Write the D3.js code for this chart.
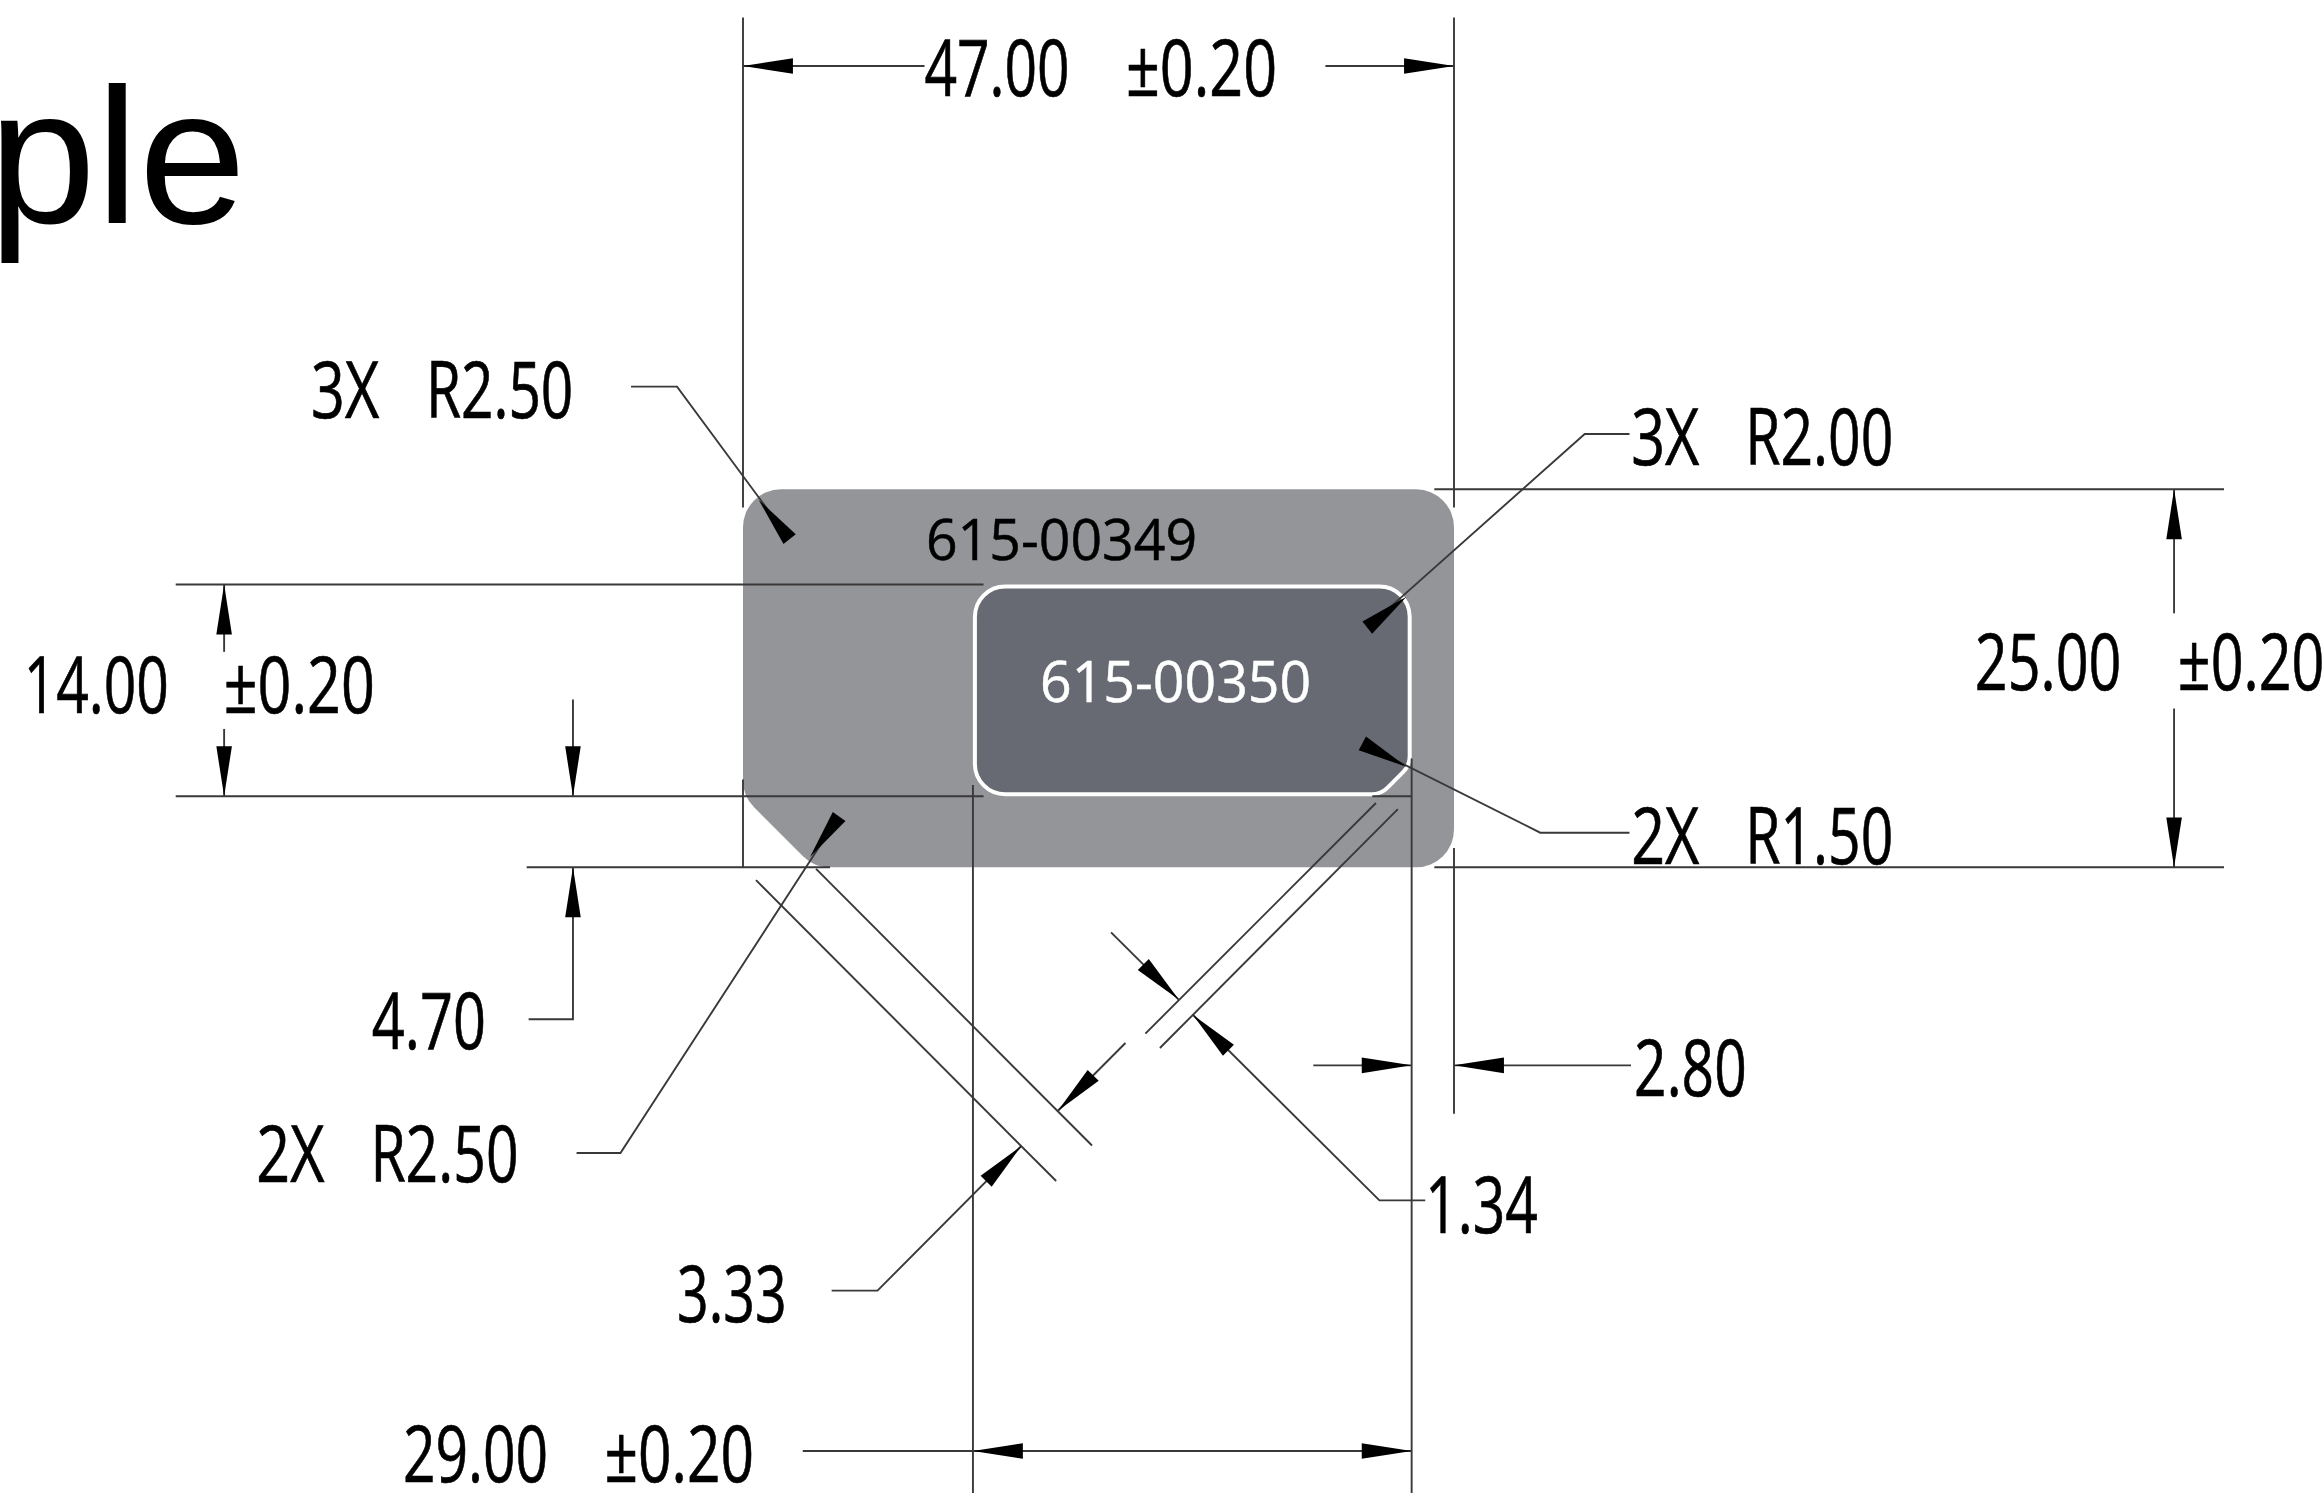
<!DOCTYPE html>
<html><head><meta charset="utf-8">
<script src="https://cdn.jsdelivr.net/npm/d3@7"></script>
<style>html,body{margin:0;padding:0;background:#fff;overflow:hidden}svg{display:block}</style>
</head><body><svg id="c" width="2323" height="1493"></svg>
<script>
// ---- values (millimetres, origin = card's lower-left corner) ----
const cardWidth = 47, cardHeight = 25, cardChamfer = 4.7, cardRadius = 2.5;
const innerX = [15.2, 44.2], innerY = [4.7, 18.7], innerRadius = 2, innerChamfer = 1.9, innerChamferRadius = 1.5;
const innerInset = 0.13;

const titleText = "Example";
const partNumbers = ["615-00349", "615-00350"];
const dimLabels = ["47.00","±0.20","3X","R2.50","3X","R2.00","14.00","±0.20","25.00","±0.20","2X","R1.50","4.70","2.80","2X","R2.50","1.34","3.33","29.00","±0.20"];

// thin extension / dimension / leader lines: polyline vertices in mm
const polylines = [
  [[0,56.2],[0,23.8]], [[47,56.2],[47,23.8]], [[47,1.28],[47,-16.3]],
  [[0,53],[12,53]], [[38.5,53],[47,53]],
  [[45.7,25],[97.9,25]], [[45.7,0],[97.9,0]],
  [[-14.3,0],[5.75,0]], [[0,5.8],[0,0]],
  [[-37.5,18.7],[15.9,18.7]], [[-37.5,4.7],[15.9,4.7]], [[41.6,4.7],[44.2,4.7]],
  [[15.2,5.44],[15.2,-42]], [[44.2,7.2],[44.2,-42]],
  [[-11.24,11.1],[-11.24,4.7]], [[-14.17,-10.05],[-11.24,-10.05],[-11.24,0]],
  [[-34.3,14.25],[-34.3,18.7]], [[-34.3,9.15],[-34.3,4.7]],
  [[94.6,16.8],[94.6,25]], [[94.6,10.5],[94.6,0]],
  [[37.7,-13.1],[44.2,-13.1]], [[58.7,-13.1],[47,-13.1]],
  [[3.95,-38.6],[44.2,-38.6]],
  [[4.83,-0.1],[23.07,-18.4]], [[0.86,-0.85],[20.7,-20.75]],
  [[41.84,4.25],[26.6,-11]], [[43.29,3.85],[27.56,-11.95]],
  [[24.33,-4.3],[28.8,-8.75]], [[45.1,-22.03],[42.07,-22.03],[29.75,-9.77]],
  [[25.28,-11.62],[20.82,-16.1]], [[5.86,-28],[8.89,-28],[18.4,-18.43]],
  [[-7.4,31.79],[-4.36,31.79],[2.97,21.85]],
  [[-11,-18.9],[-8.1,-18.9],[6.19,3.13]],
  [[58.6,28.66],[55.64,28.66],[41.26,15.85]],
  [[58.6,2.29],[52.7,2.29],[41.13,8.09]]
];
// arrowheads: [tip, point the arrow shaft comes from], in mm
const arrows = [
  [[0,53],[12,53]], [[47,53],[38.5,53]],
  [[-11.24,4.7],[-11.24,11.1]], [[-11.24,0],[-11.24,-10]],
  [[-34.3,18.7],[-34.3,14]], [[-34.3,4.7],[-34.3,9]],
  [[94.6,25],[94.6,16]], [[94.6,0],[94.6,10]],
  [[44.2,-13.1],[37,-13.1]], [[47,-13.1],[58,-13.1]],
  [[15.2,-38.6],[30,-38.6]], [[44.2,-38.6],[30,-38.6]],
  [[28.8,-8.75],[24.33,-4.3]], [[29.75,-9.77],[42.07,-22.03]],
  [[20.82,-16.1],[25.28,-11.62]], [[18.4,-18.43],[8.89,-28]],
  [[1.04,24.3],[2.97,21.85]], [[4.43,0.68],[6.19,3.13]],
  [[43.86,17.9],[41.26,15.85]], [[43.86,6.65],[41.13,8.09]]
];

// ---- scales: mm on the drawing to pixels ----
const X = d3.scaleLinear().domain([0, cardWidth]).range([743, 1454]);
const Y = d3.scaleLinear().domain([0, cardHeight]).range([867.3, 489.3]);
const svg = d3.select("#c");
const LINE = "#3a3839";

// ---- rounded outlines ----
function outline(corners){ // corners: [x,y,r] in mm
  const p = d3.path(), n = corners.length;
  const a = corners[n-1], b = corners[0];
  p.moveTo(X((a[0]+b[0])/2), Y((a[1]+b[1])/2));
  corners.forEach((c,i)=>{
    const nx = corners[(i+1)%n];
    p.arcTo(X(c[0]),Y(c[1]),X(nx[0]),Y(nx[1]),c[2]*Math.abs(X(1)-X(0)));
  });
  p.closePath();
  return p.toString();
}
svg.append("path").attr("fill","#939598").attr("d",outline([
  [0,cardHeight,cardRadius],[cardWidth,cardHeight,cardRadius],[cardWidth,0,cardRadius],
  [cardChamfer,0,cardRadius],[0,cardChamfer,cardRadius]]));
const ix0 = innerX[0]+innerInset, ix1 = innerX[1]-innerInset, iy0 = innerY[0]+innerInset, iy1 = innerY[1]-innerInset;
svg.append("path").attr("fill","#676a72").attr("stroke","#fff").attr("stroke-width",4).attr("d",outline([
  [ix0,iy1,innerRadius],[ix1,iy1,innerRadius],
  [ix1,iy0+innerChamfer,innerChamferRadius],[ix1-innerChamfer,iy0,innerChamferRadius],
  [ix0,iy0,innerRadius]]));

// ---- lines ----
const lineGen = d3.line().x(d=>X(d[0])).y(d=>Y(d[1]));
svg.append("g").attr("fill","none").attr("stroke",LINE).attr("stroke-width",1.9)
  .selectAll("path").data(polylines).join("path").attr("d",lineGen);

// ---- arrowheads (length 3.3mm, width 1mm) ----
const arrowLen = 3.3, arrowWid = 1.03;
svg.append("g").attr("fill","#000").selectAll("path").data(arrows).join("path").attr("d",([t,f])=>{
  const dx=f[0]-t[0], dy=f[1]-t[1], l=Math.hypot(dx,dy), ux=dx/l, uy=dy/l;
  const bx=t[0]+ux*arrowLen, by=t[1]+uy*arrowLen, h=arrowWid/2;
  return lineGen([t,[bx-uy*h,by+ux*h],[bx+uy*h,by-ux*h]])+"Z";
});

// ---- text ----
const k = 2323/1568;
// placement of dimLabels: left, right, baseline in the layout grid
const dimPlace = [
 [624,722,65],[760,862,65],[210,256,282],[287.5,387,282],[1101,1147,314],[1178,1278,314],
 [16,114,481],[151,253,481],[1333,1432,466],[1470,1569,466],[1101,1147,583],[1178,1278,583],
 [251,328,708],[1103,1179,740],[173,219,798],[250,350,798],[962,1038,832],[457,531,892],[272,370,1000],[408,509,1000]];
svg.append("g").attr("font-family","'Open Sans'").attr("font-size",78).attr("fill","#000")
  .attr("stroke","#000").attr("stroke-width",0.7)
  .selectAll("text").data(dimLabels).join("text")
  .attr("x",(d,i)=>dimPlace[i][0]*k).attr("y",(d,i)=>dimPlace[i][2]*k)
  .attr("textLength",(d,i)=>(dimPlace[i][1]-dimPlace[i][0])*k).attr("lengthAdjust","spacingAndGlyphs")
  .text(d=>d);
const partPlace = [[625,808,378,"#000"],[702,885,474,"#fff"]];
svg.append("g").attr("font-family","'Open Sans'").attr("font-size",56)
  .selectAll("text").data(partNumbers).join("text")
  .attr("x",(d,i)=>partPlace[i][0]*k).attr("y",(d,i)=>partPlace[i][2]*k).attr("fill",(d,i)=>partPlace[i][3])
  .attr("stroke",(d,i)=>partPlace[i][3]).attr("stroke-width",0.5)
  .attr("textLength",(d,i)=>(partPlace[i][1]-partPlace[i][0])*k).attr("lengthAdjust","spacingAndGlyphs")
  .text(d=>d);
svg.append("text").attr("x",246).attr("y",223).attr("text-anchor","end")
  .attr("font-family","'Liberation Sans'").attr("font-size",193).attr("fill","#000").text(titleText);
</script></body></html>
